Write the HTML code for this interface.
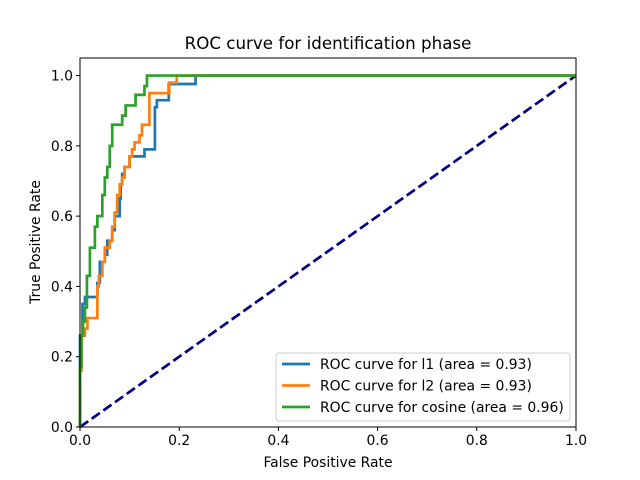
<!DOCTYPE html>
<html><head><meta charset="utf-8"><style>
body{margin:0;background:#fff;}
svg{display:block;font-family:"DejaVu Sans","Liberation Sans",sans-serif;}
</style></head><body>
<svg id="chart" width="640" height="480" viewBox="0 0 640 480">
<rect width="640" height="480" fill="#fff"/>
<text x="328" y="49" font-size="16.7" text-anchor="middle">ROC curve for identification phase</text>
<g id="plot"></g>
<text x="328" y="467" font-size="13.9" text-anchor="middle">False Positive Rate</text>
<text x="0" y="0" font-size="13.9" text-anchor="middle" transform="translate(40,242) rotate(-90)">True Positive Rate</text>
</svg>
<script>
const xTicks=[0,0.2,0.4,0.6,0.8,1.0];
const xTickLabels=["0.0","0.2","0.4","0.6","0.8","1.0"];
const yTicks=[0,0.2,0.4,0.6,0.8,1.0];
const yTickLabels=["0.0","0.2","0.4","0.6","0.8","1.0"];
const seriesNames=["ROC curve for l1 (area = 0.93)","ROC curve for l2 (area = 0.93)","ROC curve for cosine (area = 0.96)"];
const l1Fpr=[0,0.005,0.01,0.02,0.035,0.04,0.05,0.055,0.065,0.07,0.08,0.082,0.085,0.09,0.1,0.1,0.13,0.13,0.151,0.151,0.155,0.155,0.179,0.179,0.233,0.233,1];
const l1Tpr=[0,0.26,0.35,0.37,0.37,0.41,0.47,0.49,0.53,0.56,0.6,0.65,0.69,0.72,0.74,0.77,0.77,0.79,0.79,0.815,0.91,0.93,0.93,0.976,0.976,1,1];
const l2Fpr=[0,0.003,0.01,0.015,0.025,0.035,0.038,0.045,0.05,0.06,0.065,0.07,0.075,0.08,0.085,0.09,0.1,0.105,0.11,0.12,0.125,0.13,0.14,0.14,0.18,0.195,0.2,1];
const l2Tpr=[0,0.16,0.26,0.28,0.31,0.31,0.40,0.43,0.47,0.51,0.53,0.57,0.61,0.66,0.69,0.71,0.74,0.77,0.79,0.81,0.83,0.86,0.86,0.95,0.95,0.98,1,1];
const cosFpr=[0,0.003,0.006,0.01,0.014,0.02,0.025,0.03,0.035,0.045,0.05,0.055,0.06,0.065,0.062,0.085,0.092,0.112,0.13,0.135,1];
const cosTpr=[0,0.17,0.26,0.30,0.34,0.43,0.51,0.51,0.57,0.60,0.66,0.71,0.74,0.8,0.86,0.86,0.886,0.915,0.945,0.97,1];
const L=80,R=576,T=58,B=427;
const sx=v=>L+v*(R-L);
const sy=v=>B-v*(B-T)/1.05;
const NS="http://www.w3.org/2000/svg";
const g=document.getElementById('plot');
function mk(t,a){const e=document.createElementNS(NS,t);for(const k in a)e.setAttribute(k,a[k]);return e;}
const diag=mk('line',{x1:sx(0),y1:sy(0),x2:sx(1),y2:sy(1),stroke:'#000080','stroke-width':2.7,'stroke-dasharray':'10,4.3'});


g.appendChild(diag);
const colors=['#1f77b4','#ff7f0e','#2ca02c'];
const data=[[l1Fpr,l1Tpr],[l2Fpr,l2Tpr],[cosFpr,cosTpr]];
const names=['roc-line-l1','roc-line-l2','roc-line-cosine'];
data.forEach((d,i)=>{
  let p='M'+sx(d[0][0])+','+sy(d[1][0]);
  for(let j=1;j<d[0].length;j++){p+=' L'+sx(d[0][j-1])+','+sy(d[1][j])+' L'+sx(d[0][j])+','+sy(d[1][j]);}
  const e=mk('path',{d:p,fill:'none',stroke:colors[i],'stroke-width':2.7,'stroke-linejoin':'miter'});
  
  
  g.appendChild(e);
});
const frame=mk('rect',{x:L,y:T,width:R-L,height:B-T,fill:'none',stroke:'#000','stroke-width':1});


g.appendChild(frame);
xTicks.forEach((v,i)=>{
  const t=mk('line',{x1:sx(v),y1:B,x2:sx(v),y2:B+4,stroke:'#000'});
  
  
  g.appendChild(t);
  const l=mk('text',{x:sx(v),y:B+18,'font-size':13.9,'text-anchor':'middle'});l.textContent=xTickLabels[i];
  
  
  g.appendChild(l);
});
yTicks.forEach((v,i)=>{
  const t=mk('line',{x1:L-4,y1:sy(v),x2:L,y2:sy(v),stroke:'#000'});
  
  
  g.appendChild(t);
  const l=mk('text',{x:L-7,y:sy(v)+5,'font-size':13.9,'text-anchor':'end'});l.textContent=yTickLabels[i];
  
  
  g.appendChild(l);
});
const lg=mk('g',{});


g.appendChild(lg);
lg.appendChild(mk('rect',{x:276,y:353,width:294,height:68,rx:3,fill:'#fff','fill-opacity':0.8,stroke:'#ccc'}));
seriesNames.forEach((n,i)=>{
  const y=364+i*21.5;
  const ln=mk('line',{x1:282,y1:y,x2:310,y2:y,stroke:colors[i],'stroke-width':2.7});
  
  
  lg.appendChild(ln);
  const tx=mk('text',{x:320,y:y+5,'font-size':13.9});tx.textContent=n;
  
  
  lg.appendChild(tx);
});
</script>
</body></html>
